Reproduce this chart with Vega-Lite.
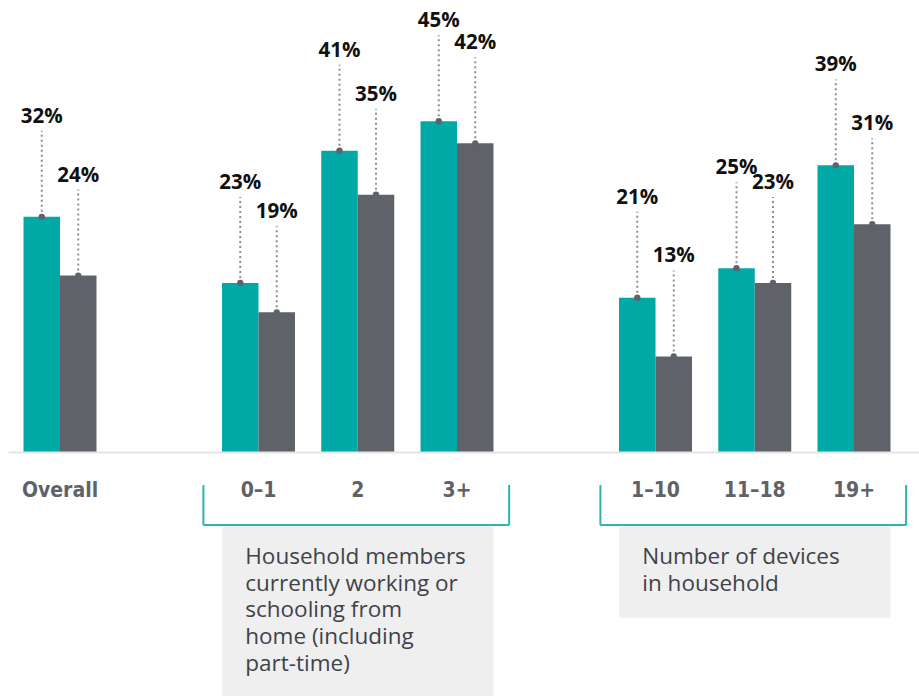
{
  "$schema": "https://vega.github.io/schema/vega-lite/v6.json",
  "width": 911,
  "height": 452,
  "autosize": {"type": "none"},
  "padding": {"left": 8, "top": 0, "right": 0, "bottom": 244},
  "background": "white",
  "config": {
    "view": {"stroke": null},
    "font": "Open Sans",
    "axisX": {"ticks": false, "domainColor": "#e5e5e5", "domainWidth": 2, "labelFont": "'DejaVu Sans Condensed', 'Open Sans', sans-serif", "labelFontWeight": "bold", "labelFontSize": 21, "labelColor": "#5f6269", "labelPadding": 27, "labelAngle": 0, "title": null, "grid": false}
  },
  "datasets": {
    "bars": [
      {"category": "Overall", "series": "A", "value": 0.32},
      {"category": "Overall", "series": "B", "value": 0.24},
      {"category": "0–1", "series": "A", "value": 0.23},
      {"category": "0–1", "series": "B", "value": 0.19},
      {"category": "2", "series": "A", "value": 0.41},
      {"category": "2", "series": "B", "value": 0.35},
      {"category": "3+", "series": "A", "value": 0.45},
      {"category": "3+", "series": "B", "value": 0.42},
      {"category": "1–10", "series": "A", "value": 0.21},
      {"category": "1–10", "series": "B", "value": 0.13},
      {"category": "11–18", "series": "A", "value": 0.25},
      {"category": "11–18", "series": "B", "value": 0.23},
      {"category": "19+", "series": "A", "value": 0.39},
      {"category": "19+", "series": "B", "value": 0.31}
    ],
    "groups": [
      {"from": "0–1", "to": "3+", "label": "Household members\ncurrently working or\nschooling from\nhome (including\npart-time)"},
      {"from": "1–10", "to": "19+", "label": "Number of devices\nin household"}
    ]
  },
  "layer": [
    {
      "data": {"name": "groups"},
      "transform": [{"calculate": "-0.152 - 0.0367 * length(split(datum.label, '\\n'))", "as": "bottom"}],
      "mark": {"type": "rect", "color": "#efefef"},
      "encoding": {
        "x": {"field": "from", "type": "nominal", "bandPosition": 0.135, "title": null, "scale": {"domain": ["Overall", " ", "0–1", "2", "3+", "  ", "1–10", "11–18", "19+"], "paddingInner": 0, "paddingOuter": 0.0894, "align": 0.134}},
        "x2": {"field": "to", "bandPosition": 0.868},
        "y": {"field": "bottom", "type": "quantitative", "axis": null, "scale": {"domain": [0, 0.615], "nice": false}},
        "y2": {"datum": -0.102}
      }
    },
    {
      "data": {"name": "groups"},
      "mark": {"type": "text", "align": "left", "baseline": "top", "dx": 23, "fontSize": 22.5, "lineHeight": 26.7, "lineBreak": "\n", "color": "#3e434a"},
      "encoding": {
        "x": {"field": "from", "type": "nominal", "bandPosition": 0.135, "title": null, "scale": {"domain": ["Overall", " ", "0–1", "2", "3+", "  ", "1–10", "11–18", "19+"], "paddingInner": 0, "paddingOuter": 0.0894, "align": 0.134}},
        "y": {"datum": -0.128, "type": "quantitative", "axis": null, "scale": {"domain": [0, 0.615], "nice": false}},
        "text": {"field": "label", "type": "nominal"}
      }
    },
    {
      "data": {"name": "groups"},
      "mark": {"type": "rule", "color": "#2fb3b1", "strokeWidth": 2, "xOffset": -5.5, "x2Offset": 2.5},
      "encoding": {
        "x": {"field": "from", "type": "nominal", "bandPosition": 0, "title": null, "scale": {"domain": ["Overall", " ", "0–1", "2", "3+", "  ", "1–10", "11–18", "19+"], "paddingInner": 0, "paddingOuter": 0.0894, "align": 0.134}},
        "x2": {"field": "to", "bandPosition": 1},
        "y": {"datum": -0.0993, "type": "quantitative", "axis": null, "scale": {"domain": [0, 0.615], "nice": false}}
      }
    },
    {
      "data": {"name": "groups"},
      "mark": {"type": "rule", "color": "#2fb3b1", "strokeWidth": 2, "xOffset": -5.5},
      "encoding": {
        "x": {"field": "from", "type": "nominal", "bandPosition": 0, "title": null, "scale": {"domain": ["Overall", " ", "0–1", "2", "3+", "  ", "1–10", "11–18", "19+"], "paddingInner": 0, "paddingOuter": 0.0894, "align": 0.134}},
        "y": {"datum": -0.045, "type": "quantitative", "axis": null, "scale": {"domain": [0, 0.615], "nice": false}},
        "y2": {"datum": -0.0993}
      }
    },
    {
      "data": {"name": "groups"},
      "mark": {"type": "rule", "color": "#2fb3b1", "strokeWidth": 2, "xOffset": 2.5},
      "encoding": {
        "x": {"field": "to", "type": "nominal", "bandPosition": 1, "title": null, "scale": {"domain": ["Overall", " ", "0–1", "2", "3+", "  ", "1–10", "11–18", "19+"], "paddingInner": 0, "paddingOuter": 0.0894, "align": 0.134}},
        "y": {"datum": -0.045, "type": "quantitative", "axis": null, "scale": {"domain": [0, 0.615], "nice": false}},
        "y2": {"datum": -0.0993}
      }
    },
    {
      "data": {"name": "bars"},
      "mark": {"type": "bar"},
      "encoding": {
        "x": {"field": "category", "type": "nominal", "title": null, "scale": {"domain": ["Overall", " ", "0–1", "2", "3+", "  ", "1–10", "11–18", "19+"], "paddingInner": 0, "paddingOuter": 0.0894, "align": 0.134}},
        "xOffset": {"field": "series", "type": "nominal", "scale": {"domain": ["A", "B"], "paddingInner": 0, "paddingOuter": 0.36}},
        "y": {"field": "value", "type": "quantitative", "axis": null, "scale": {"domain": [0, 0.615], "nice": false}},
        "color": {"field": "series", "type": "nominal", "scale": {"domain": ["A", "B"], "range": ["#00a9a6", "#5f6269"]}, "legend": null}
      }
    },
    {
      "data": {"name": "bars"},
      "transform": [{"calculate": "datum.value + 0.117", "as": "top"}],
      "mark": {"type": "rule", "color": "#8c8f93", "strokeWidth": 2, "strokeDash": [2, 3]},
      "encoding": {
        "x": {"field": "category", "type": "nominal", "title": null, "scale": {"domain": ["Overall", " ", "0–1", "2", "3+", "  ", "1–10", "11–18", "19+"], "paddingInner": 0, "paddingOuter": 0.0894, "align": 0.134}},
        "xOffset": {"field": "series", "type": "nominal", "scale": {"domain": ["A", "B"], "paddingInner": 0, "paddingOuter": 0.36}},
        "y": {"field": "value", "type": "quantitative", "axis": null, "scale": {"domain": [0, 0.615], "nice": false}},
        "y2": {"field": "top"}
      }
    },
    {
      "data": {"name": "bars"},
      "mark": {"type": "point", "filled": true, "size": 40, "opacity": 1, "color": "#5f6269"},
      "encoding": {
        "x": {"field": "category", "type": "nominal", "title": null, "scale": {"domain": ["Overall", " ", "0–1", "2", "3+", "  ", "1–10", "11–18", "19+"], "paddingInner": 0, "paddingOuter": 0.0894, "align": 0.134}},
        "xOffset": {"field": "series", "type": "nominal", "scale": {"domain": ["A", "B"], "paddingInner": 0, "paddingOuter": 0.36}},
        "y": {"field": "value", "type": "quantitative", "axis": null, "scale": {"domain": [0, 0.615], "nice": false}}
      }
    },
    {
      "data": {"name": "bars"},
      "mark": {"type": "text", "dy": -100, "baseline": "middle", "fontSize": 20.5, "fontWeight": "bold", "color": "#111111"},
      "encoding": {
        "x": {"field": "category", "type": "nominal", "title": null, "scale": {"domain": ["Overall", " ", "0–1", "2", "3+", "  ", "1–10", "11–18", "19+"], "paddingInner": 0, "paddingOuter": 0.0894, "align": 0.134}},
        "xOffset": {"field": "series", "type": "nominal", "scale": {"domain": ["A", "B"], "paddingInner": 0, "paddingOuter": 0.36}},
        "y": {"field": "value", "type": "quantitative", "axis": null, "scale": {"domain": [0, 0.615], "nice": false}},
        "text": {"field": "value", "type": "quantitative", "format": ".0%"}
      }
    }
  ]
}
